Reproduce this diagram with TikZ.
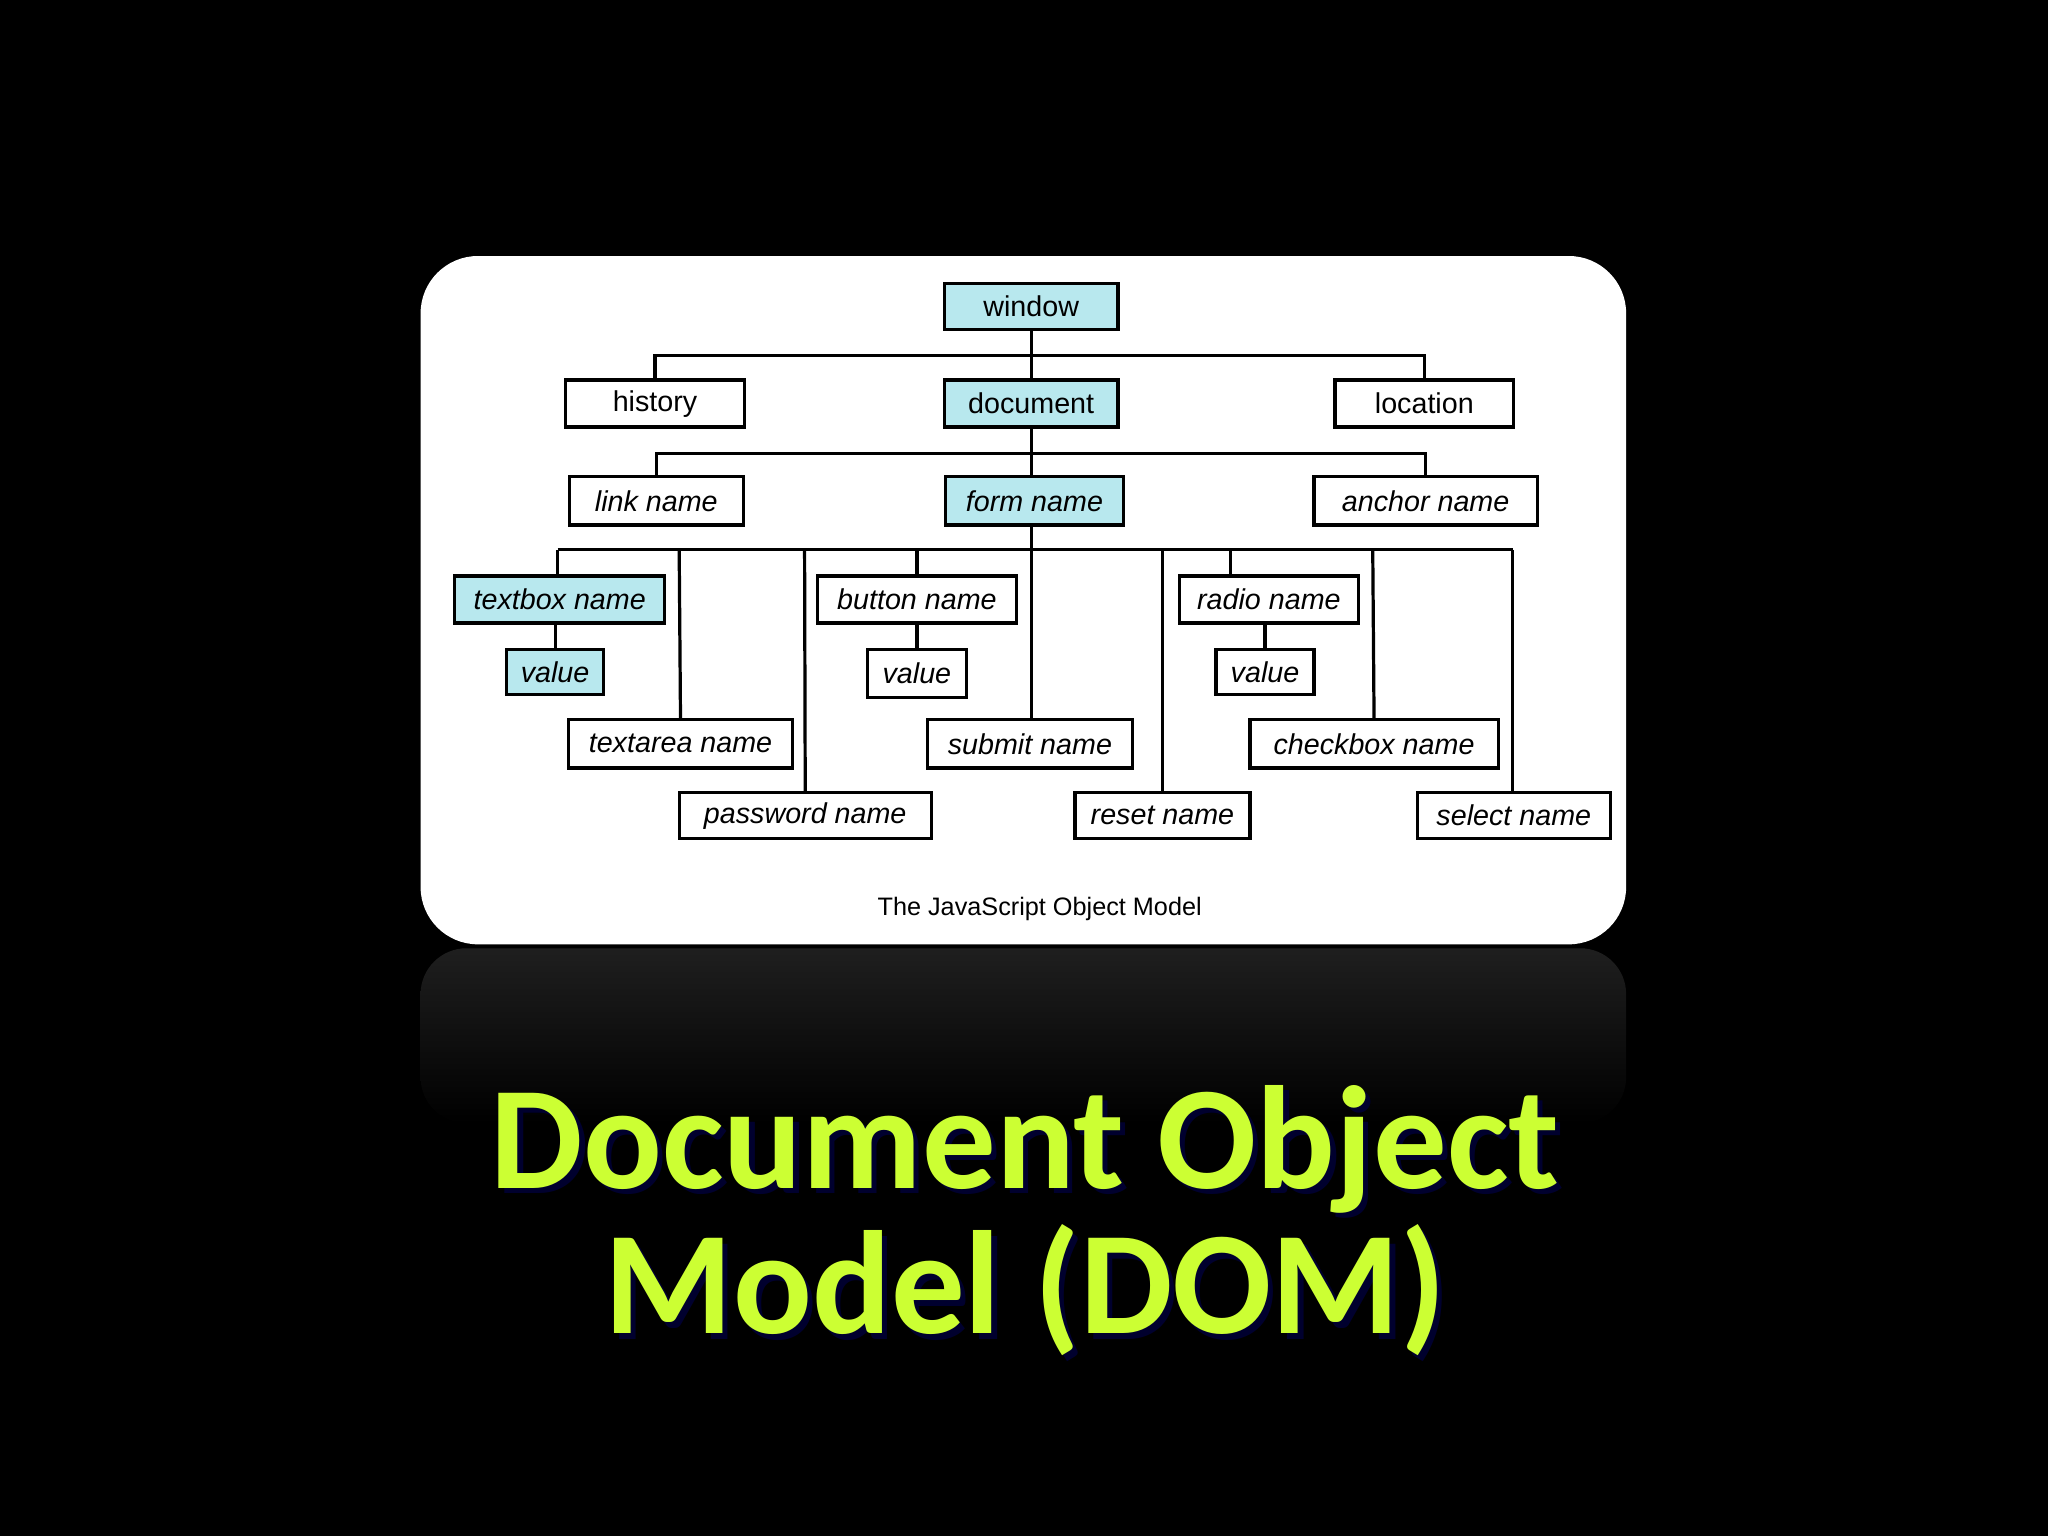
\documentclass[tikz,border=0pt]{standalone}
\usepackage{fontspec}
\setmainfont{Liberation Sans}
\newfontfamily\titlefont{Carlito}
\definecolor{boxcyan}{HTML}{B8E8EE}
\definecolor{titlegreen}{HTML}{CCFF33}
\begin{document}
\begin{tikzpicture}[x=0.02cm,y=-0.02cm,
  box/.style={draw=black,line width=1.4pt,fill=white,inner sep=0pt,font=\fontsize{12.5}{14}\selectfont},
  hl/.style={fill=boxcyan},
  it/.style={font=\fontsize{12.5}{14}\selectfont\itshape},
  wire/.style={line width=1.4pt},
  ttl/.style={font=\titlefont\bfseries\fontsize{64}{64}\selectfont}]
\fill[black] (0,0) rectangle (1568,1176);
\useasboundingbox (0,0) rectangle (1568,1176);
% reflection
\shade[top color=black!88!white,bottom color=black,rounded corners=20pt] (322,726) rectangle (1245,860);
\fill[white,rounded corners=25pt] (322,196) rectangle (1245,723);
% nodes
\node[box,hl,minimum width=2.66cm,minimum height=0.7cm] (window) at (789.5,234.5) {window};
\node[box,minimum width=2.74cm,minimum height=0.72cm] (history) at (501.5,309) {history};
\node[box,hl,minimum width=2.66cm,minimum height=0.72cm] (document) at (789.5,309) {document};
\node[box,minimum width=2.74cm,minimum height=0.72cm] (location) at (1090.5,309) {location};
\node[box,it,minimum width=2.66cm,minimum height=0.74cm] (link) at (502.5,383.5) {link name};
\node[box,it,hl,minimum width=2.72cm,minimum height=0.74cm] (form) at (792,383.5) {form name};
\node[box,it,minimum width=3.42cm,minimum height=0.74cm] (anchor) at (1091.5,383.5) {anchor name};
\node[box,it,hl,minimum width=3.22cm,minimum height=0.72cm] (textbox) at (428.5,459) {textbox name};
\node[box,it,hl,minimum width=1.48cm,minimum height=0.7cm] (value1) at (425,514.5) {value};
\node[box,it,minimum width=3.44cm,minimum height=0.74cm] (textarea) at (521,569.5) {textarea name};
\node[box,it,minimum width=3.86cm,minimum height=0.7cm] (password) at (616.5,624.5) {password name};
\node[box,it,minimum width=3.04cm,minimum height=0.72cm] (button) at (702,459) {button name};
\node[box,it,minimum width=1.52cm,minimum height=0.74cm] (value2) at (702,515.5) {value};
\node[box,it,minimum width=3.14cm,minimum height=0.74cm] (submit) at (788.5,569.5) {submit name};
\node[box,it,minimum width=2.68cm,minimum height=0.7cm] (reset) at (890,624.5) {reset name};
\node[box,it,minimum width=2.74cm,minimum height=0.72cm] (radio) at (971.5,459) {radio name};
\node[box,it,minimum width=1.5cm,minimum height=0.7cm] (value3) at (968.5,514.5) {value};
\node[box,it,minimum width=3.8cm,minimum height=0.74cm] (checkbox) at (1052,569.5) {checkbox name};
\node[box,it,minimum width=2.96cm,minimum height=0.7cm] (select) at (1159,624.5) {select name};
% wires
\draw[wire] (window.south) -- (789.5,272) coordinate (b1);
\draw[wire] (history.north) |- (b1) -| (location.north);
\draw[wire] (b1) -- (document.north);
\draw[wire] (document.south) -- (789.5,347) coordinate (b2);
\draw[wire] (link.north) |- (b2) -| (anchor.north);
\draw[wire] (b2) -- (789.5,365);
\draw[wire] (789.5,402) -- (789.5,421) coordinate (b3);
\draw[wire] (427,421) -- (1158,421);
\draw[wire] (427,421) -- (427,441);
\draw[wire] (520,421) -- (textarea.north);
\draw[wire] (616,421) -- (password.north);
\draw[wire] (702,421) -- (button.north);
\draw[wire] (789.5,421) -- (submit.north -| 789.5,0);
\draw[wire] (890,421) -- (reset.north);
\draw[wire] (942,421) -- (942,441);
\draw[wire] (1051,421) -- (checkbox.north);
\draw[wire] (1158,421) -- (1158,607);
\draw[wire] (425,477) -- (value1.north);
\draw[wire] (button.south) -- (value2.north);
\draw[wire] (968.5,477) -- (value3.north);
\node[font=\fontsize{11}{13}\selectfont] (cap) at (796,696) {The JavaScript Object Model};
% title with shadow
\node[ttl,text=black!40!blue!30!black] (s1) at (789,884) {Document Object};
\node[ttl,text=black!40!blue!30!black] (s2) at (789,992) {Model (DOM)};
\node[ttl,text=titlegreen] (t1) at (785,880) {Document Object};
\node[ttl,text=titlegreen] (t2) at (785,988) {Model (DOM)};
\end{tikzpicture}
\end{document}
